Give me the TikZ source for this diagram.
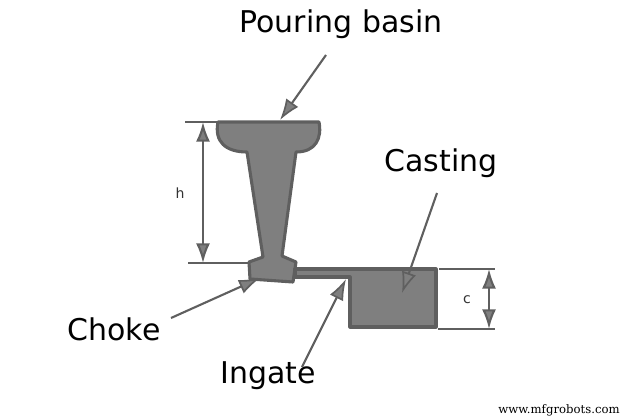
\documentclass[tikz,border=0pt]{standalone}
\usepackage{xcolor}
\usepackage{fontspec}
\setmainfont{DejaVu Sans}
\newfontfamily\markfont{DejaVu Serif}
\usetikzlibrary{arrows.meta}
\definecolor{metalfill}{HTML}{7F7F7F}
\definecolor{metaledge}{HTML}{5F5F5F}
\tikzset{
  metal/.style={draw=metaledge,fill=metalfill,line width=2.2pt,line join=round},
  dimline/.style={draw=metaledge,line width=1.5pt},
  pointer/.style={draw=metaledge,line width=1.5pt,-{Latex[length=15pt,width=10.5pt,open,fill=metalfill,line width=1.2pt]}},
  dimarrow/.style={draw=metaledge,line width=1.5pt,{Latex[length=14pt,width=10pt,fill=metalfill]}-{Latex[length=14pt,width=10pt,fill=metalfill]}},
  bigtext/.style={font=\fontsize{21.3}{25}\selectfont,text=black,inner sep=0pt},
  smalltext/.style={font=\fontsize{10}{12}\selectfont,text=black!80,inner sep=0pt}
}
\begin{document}
\begin{tikzpicture}[x=0.025cm,y=-0.025cm]
  \useasboundingbox (0,0) rectangle (630,420);

  % Sprue and basin
  \draw[metal] (218,122) -- (319,122)
    .. controls (322,138) and (316,152) .. (296,152)
    -- (282,256) -- (296,262) -- (293,282) -- (250,279) -- (249,262) -- (263,257) -- (247,152)
    .. controls (226,152) and (214,142) .. (218,122) -- cycle;

  % Runner and casting
  \draw[metal] (295,269) -- (436,269) -- (436,327) -- (350,327) -- (350,277) -- (295,277) -- cycle;

  % Dimension h
  \coordinate (hTopL) at (185,122);
  \coordinate (hTopR) at (218,122);
  \coordinate (hBotL) at (188,263);
  \coordinate (hBotR) at (249,263);
  \coordinate (hTop) at (203,122);
  \coordinate (hBot) at (203,263);
  \draw[dimline] (hTopL) -- (hTopR);
  \draw[dimline] (hBotL) -- (hBotR);
  \draw[dimarrow] (hTop) -- (hBot);
  \node[smalltext] (hLabel) at (180,193) {h};

  % Dimension c
  \coordinate (cTopL) at (439,269);
  \coordinate (cTopR) at (495,269);
  \coordinate (cBotL) at (438,329);
  \coordinate (cBotR) at (495,329);
  \coordinate (cTop) at (489,269);
  \coordinate (cBot) at (489,329);
  \draw[dimline] (cTopL) -- (cTopR);
  \draw[dimline] (cBotL) -- (cBotR);
  \draw[dimarrow] (cTop) -- (cBot);
  \node[smalltext] (cLabel) at (467,300) {c};

  % Labels
  \node[bigtext] (basinLabel) at (341,24) {Pouring basin};
  \node[bigtext] (castingLabel) at (441,163) {Casting};
  \node[bigtext] (chokeLabel) at (114,329) {Choke};
  \node[bigtext] (ingateLabel) at (268,376) {Ingate};
  \node[font=\markfont\fontsize{8.3}{10}\selectfont,inner sep=0pt] (siteLabel) at (559,410) {www.mfgrobots.com};

  % Pointers
  \coordinate (basinFrom) at (326,55);
  \coordinate (basinTip) at (280,120);
  \coordinate (castingFrom) at (437,193);
  \coordinate (castingTip) at (402,293);
  \coordinate (chokeFrom) at (171,318);
  \coordinate (chokeTip) at (260,278);
  \coordinate (ingateFrom) at (302,367);
  \coordinate (ingateTip) at (346,279);
  \draw[pointer] (basinFrom) -- (basinTip);
  \draw[pointer] (castingFrom) -- (castingTip);
  \draw[pointer] (chokeFrom) -- (chokeTip);
  \draw[pointer] (ingateFrom) -- (ingateTip);
\end{tikzpicture}
\end{document}
